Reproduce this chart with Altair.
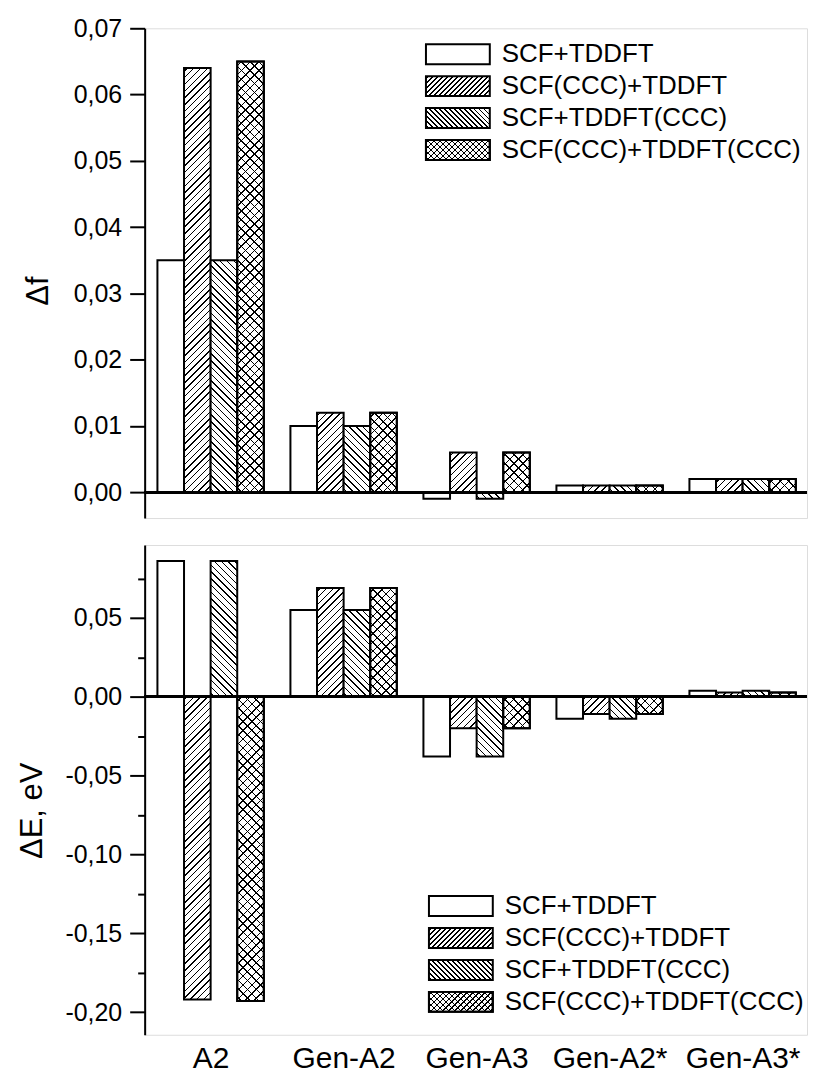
import altair as alt
import pandas as pd

# ---------------- data ----------------
categories = ["A2", "Gen-A2", "Gen-A3", "Gen-A2*", "Gen-A3*"]
series = ["SCF+TDDFT", "SCF(CCC)+TDDFT", "SCF+TDDFT(CCC)", "SCF(CCC)+TDDFT(CCC)"]

# Δf (oscillator strength change)
df_scf_tddft = [0.035, 0.010, -0.001, 0.001, 0.002]
df_sccc_tddft = [0.064, 0.012, 0.006, 0.001, 0.002]
df_scf_tccc = [0.035, 0.010, -0.001, 0.001, 0.002]
df_sccc_tccc = [0.065, 0.012, 0.006, 0.001, 0.002]

# ΔE, eV
de_scf_tddft = [0.086, 0.055, -0.038, -0.014, 0.0037]
de_sccc_tddft = [-0.192, 0.069, -0.020, -0.011, 0.0027]
de_scf_tccc = [0.086, 0.055, -0.038, -0.014, 0.0037]
de_sccc_tccc = [-0.193, 0.069, -0.020, -0.011, 0.0027]

top_ticks = [round(0.005 * k, 4) for k in range(0, 15)]
bot_ticks = [round(-0.2 + 0.025 * k, 4) for k in range(0, 12)]

# ---------------- layout constants ----------------
W = 664
H = 491
XDOM = [-0.48, 24.42]
TOP_DOM = [-0.0039, 0.07]
BOT_DOM = [-0.2144, 0.0962]
FONT = "Liberation Sans"
SLOT_PX = W / (XDOM[1] - XDOM[0])


def hatch(w, h, kind, spacing, lw=1.5, bg="white"):
    """Linear-gradient stripes giving 45 degree hatch lines on a w x h box."""
    total = w + h
    stops = [{"offset": 0, "color": bg}]
    k = 0
    while True:
        c = (k + 0.5) * spacing
        a, b = (c - lw / 2) / total, (c + lw / 2) / total
        if a >= 1:
            break
        a, b = max(a, 0.0), min(b, 1.0)
        stops += [{"offset": a, "color": bg}, {"offset": a, "color": "black"},
                  {"offset": b, "color": "black"}, {"offset": b, "color": bg}]
        k += 1
    stops.append({"offset": 1, "color": bg})
    f = total / (w * w + h * h)
    if kind == "/":
        x1, y1, x2, y2 = 0, 0, w * f, h * f
    else:
        x1, y1, x2, y2 = 0, 1, w * f, 1 - h * f
    return {"gradient": "linear", "x1": x1, "y1": y1, "x2": x2, "y2": y2, "stops": stops}


def fills(si, w, h, sp1, sp2):
    if si == 0:
        return "white", None
    if si == 1:
        return hatch(w, h, "/", sp1), None
    if si == 2:
        return hatch(w, h, "\\", sp1), None
    return hatch(w, h, "/", sp2), hatch(w, h, "\\", sp2, bg="rgba(0,0,0,0)")


def build(vals, dom):
    ppu = H / (dom[1] - dom[0])
    rows = []
    for si, s in enumerate(series):
        for gi, c in enumerate(categories):
            v = vals[si][gi]
            g1, g2 = fills(si, SLOT_PX, abs(v) * ppu, 6.8, 8.8)
            rows.append({"cat": c, "series": s, "x0": gi * 5 + si, "x1": gi * 5 + si + 1,
                         "v": v, "g1": g1, "g2": g2})
    return pd.DataFrame(rows)


top_df = build([df_scf_tddft, df_sccc_tddft, df_scf_tccc, df_sccc_tccc], TOP_DOM)
bot_df = build([de_scf_tddft, de_sccc_tddft, de_scf_tccc, de_sccc_tccc], BOT_DOM)

leg_rows = []
for si, s in enumerate(series):
    g1, g2 = fills(si, 64, 20, 5.0, 6.0)
    leg_rows.append({"series": s, "g1": g1, "g2": g2})
leg_df = pd.DataFrame(leg_rows)


def yaxis(title, values, mult, title_x, title_y):
    major = f"abs(datum.value*{mult} - round(datum.value*{mult})) < 0.001"
    return alt.Axis(
        title=title, values=values, grid=False,
        labelExpr=f"{major} ? replace(replace(format(datum.value, '.2f'), '.', ','), '\u2212', '-') : ''",
        tickSize={"condition": {"test": major, "value": 15}, "value": 7},
        tickColor="black", tickWidth=2, domainColor="black", domainWidth=2,
        labelFont=FONT, labelFontSize=25, labelColor="black", labelPadding=8,
        titleFont=FONT, titleFontSize=31, titleFontWeight="normal", titleColor="black",
        titleX=title_x, titleY=title_y, titleAngle=-90, titleAlign="center", titleBaseline="middle",
    )


def panel(data, dom, ticks, mult, title, title_x, title_y, show_x, leg_x, leg_top):
    xscale = alt.Scale(domain=XDOM, nice=False, zero=False)
    yscale = alt.Scale(domain=dom, nice=False, zero=False)
    if show_x:
        xaxis = alt.Axis(
            values=[gi * 5 + 2 for gi in range(len(categories))],
            labelExpr=str(categories) + "[round((datum.value - 2) / 5)]",
            title=None, grid=False, ticks=False, tickSize=0, domain=False,
            labelFont=FONT, labelFontSize=30, labelColor="black", labelPadding=9,
        )
    else:
        xaxis = None
    base = alt.Chart(data)
    bars1 = base.mark_rect(stroke="black", strokeWidth=2).encode(
        x=alt.X("x0:Q", scale=xscale, axis=xaxis),
        x2="x1:Q",
        y=alt.Y("v:Q", scale=yscale, axis=yaxis(title, ticks, mult, title_x, title_y)),
        y2=alt.datum(0),
        fill=alt.Fill("g1:N", scale=None),
    )
    bars2 = base.transform_filter(alt.datum.series == series[3]).mark_rect(
        stroke="black", strokeWidth=2).encode(
        x=alt.X("x0:Q", scale=xscale, axis=xaxis),
        x2="x1:Q",
        y=alt.Y("v:Q", scale=yscale, axis=yaxis(title, ticks, mult, title_x, title_y)),
        y2=alt.datum(0),
        fill=alt.Fill("g2:N", scale=None),
    )
    zero = alt.Chart(data).mark_rule(color="black", strokeWidth=2.5).encode(
        y=alt.datum(0)
    )
    bars = alt.layer(bars1, bars2, zero)

    r0 = leg_top - 16
    lscale = alt.Scale(type="band", domain=series, range=[r0, r0 + 128],
                       paddingInner=0.375, paddingOuter=0.1875)
    lbase = alt.Chart(leg_df)
    l1 = lbase.mark_rect(stroke="black", strokeWidth=2).encode(
        x=alt.value(leg_x), x2=alt.value(leg_x + 64),
        y=alt.Y("series:N", scale=lscale, axis=None, sort=series),
        fill=alt.Fill("g1:N", scale=None),
    )
    l2 = lbase.transform_filter(alt.datum.series == series[3]).mark_rect(
        stroke="black", strokeWidth=2).encode(
        x=alt.value(leg_x), x2=alt.value(leg_x + 64),
        y=alt.Y("series:N", scale=lscale, axis=None, sort=series),
        fill=alt.Fill("g2:N", scale=None),
    )
    lt = lbase.mark_text(align="left", baseline="middle", font=FONT, fontSize=26,
                         color="black").encode(
        x=alt.value(leg_x + 76),
        y=alt.Y("series:N", scale=lscale, axis=None, sort=series),
        text="series:N",
    )
    legend = alt.layer(l1, l2, lt)
    return alt.layer(bars, legend).resolve_scale(y="independent").properties(width=W, height=H)


top = panel(top_df, TOP_DOM, top_ticks, 100, "\u0394f", -106, 263, False, 282, 26)
bot = panel(bot_df, BOT_DOM, bot_ticks, 20, "\u0394E, eV", -112, 266, True, 285, 362)

chart = alt.vconcat(top, bot, spacing=25).properties(
    padding={"left": 8, "top": 6, "right": -1, "bottom": 0}
).configure_view(stroke="#333", strokeWidth=1).configure(background="white")

chart.save("out.html", embed_options={"renderer": "svg", "actions": False})
